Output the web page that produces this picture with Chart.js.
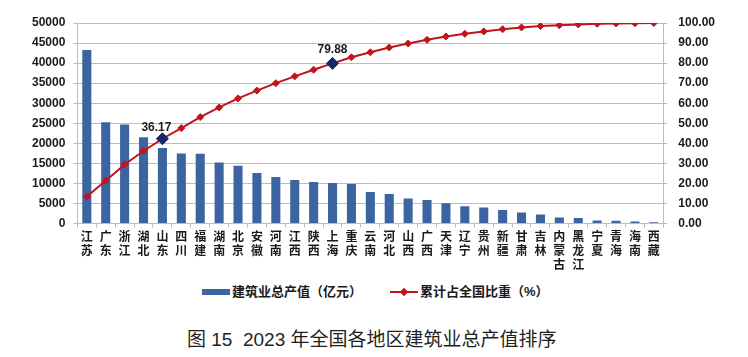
<!DOCTYPE html>
<html>
<head>
<meta charset="utf-8">
<script src="https://cdn.jsdelivr.net/npm/chart.js@4"></script>
<style>
  html, body { margin: 0; padding: 0; background: #fff; }
  #wrap { position: relative; width: 748px; height: 357px; overflow: hidden; }
  #c { position: absolute; left: 0; top: 0; }
  .leg { position: absolute; top: 283px; height: 18px; font: bold 13px "Liberation Sans", "Noto Sans CJK SC", sans-serif; color: #1a1a1a; line-height: 18px; white-space: nowrap; }
  .sw-bar { position: absolute; top: 6px; width: 28px; height: 6px; background: #3B64A0; }
  .sw-line { position: absolute; top: 8px; width: 28px; height: 2px; background: #C0141C; }
  .sw-dia { position: absolute; top: 6px; left: 11px; width: 6px; height: 6px; background: #C0141C; transform: rotate(45deg); }
  #title { position: absolute; left: 187px; top: 324px; font: 19px "Liberation Sans", "Noto Sans CJK SC", sans-serif; color: #1f1f1f; white-space: nowrap; }
</style>
</head>
<body>
<div id="wrap">
  <canvas id="c" width="748" height="280"></canvas>
  <div class="leg" style="left:202px;"><span class="sw-bar" style="left:0"></span><span style="position:absolute;left:30px;">建筑业总产值（亿元）</span></div>
  <div class="leg" style="left:390px;"><span class="sw-line" style="left:0"></span><span class="sw-dia"></span><span style="position:absolute;left:30px;">累计占全国比重（%）</span></div>
  <div id="title">图 15&nbsp; 2023 年全国各地区建筑业总产值排序</div>
</div>
<script>
const regions = ['江苏','广东','浙江','湖北','山东','四川','福建','湖南','北京','安徽','河南','江西','陕西','上海','重庆','云南','河北','山西','广西','天津','辽宁','贵州','新疆','甘肃','吉林','内蒙古','黑龙江','宁夏','青海','海南','西藏'];
const outputValues = [43300, 25250, 24700, 21500, 18850, 17500, 17400, 15250, 14400, 12600, 11600, 10850, 10400, 10100, 9850, 7900, 7350, 6250, 5900, 5100, 4350, 4000, 3400, 2750, 2250, 1500, 1400, 750, 700, 500, 350];
const cumulativeShare = [13.5, 21.4, 29.5, 36.2, 42.3, 47.6, 53.1, 57.9, 62.4, 66.3, 70.0, 73.4, 76.7, 79.88, 82.9, 85.4, 87.8, 89.8, 91.6, 93.3, 94.6, 95.8, 96.9, 97.8, 98.5, 98.9, 99.3, 99.6, 99.8, 99.9, 100];
const highlightIndex = [4, 13];
const highlightText = ['36.17', '79.88'];
const leftTicks = [0, 5000, 10000, 15000, 20000, 25000, 30000, 35000, 40000, 45000, 50000];
const rightTicks = [0, 10, 20, 30, 40, 50, 60, 70, 80, 90, 100];

const labelPlugin = {
  id: 'hlLabels',
  afterDatasetsDraw(chart) {
    const meta = chart.getDatasetMeta(1);
    const ctx = chart.ctx;
    ctx.save();
    ctx.font = 'bold 12px "Liberation Sans", sans-serif';
    ctx.fillStyle = '#1a1a1a';
    ctx.textAlign = 'center';
    ctx.textBaseline = 'bottom';
    const dx = [-6, 0];
    const dy = [-5, -8];
    highlightIndex.forEach((idx, k) => {
      const pt = meta.data[idx];
      ctx.fillText(highlightText[k], pt.x + dx[k], pt.y + dy[k]);
    });
    ctx.restore();
  }
};

const tickFont = { family: '"Liberation Sans", sans-serif', size: 12, weight: 'bold' };
const gridColor = '#BDBDBD';

new Chart(document.getElementById('c'), {
  data: {
    labels: regions.map(r => r.split('')),
    datasets: [
      {
        type: 'bar',
        label: '建筑业总产值（亿元）',
        data: outputValues,
        backgroundColor: '#3B64A0',
        barPercentage: 0.48,
        categoryPercentage: 1.0,
        yAxisID: 'y',
        order: 2
      },
      {
        type: 'line',
        label: '累计占全国比重（%）',
        data: cumulativeShare,
        borderColor: '#C0141C',
        borderWidth: 2,
        pointStyle: 'rectRot',
        pointRadius: ctx => highlightIndex.includes(ctx.dataIndex) ? 6 : 3.5,
        pointBackgroundColor: ctx => highlightIndex.includes(ctx.dataIndex) ? '#14286E' : '#C0141C',
        pointBorderColor: ctx => highlightIndex.includes(ctx.dataIndex) ? '#14286E' : '#C0141C',
        pointBorderWidth: 1,
        tension: 0,
        yAxisID: 'y1',
        order: 1
      }
    ]
  },
  options: {
    responsive: false,
    animation: false,
    devicePixelRatio: 1,
    layout: { padding: { left: 24, right: 22, top: 23, bottom: 7 } },
    plugins: {
      legend: { display: false },
      title: { display: false },
      tooltip: { enabled: false }
    },
    scales: {
      x: {
        offset: true,
        grid: { display: true, drawOnChartArea: false, drawTicks: true, tickLength: 4, color: gridColor, offset: true },
        border: { display: true, color: gridColor },
        ticks: { font: { family: '"Noto Sans CJK SC", sans-serif', size: 12, weight: 'bold', lineHeight: 1.15 }, color: '#1a1a1a', maxRotation: 0, autoSkip: false, padding: 2 }
      },
      y: {
        position: 'left',
        min: 0, max: 50000,
        afterBuildTicks: axis => { axis.ticks = leftTicks.map(v => ({ value: v })); },
        grid: { color: gridColor, tickLength: 4, drawTicks: true },
        border: { display: true, color: gridColor },
        ticks: { font: tickFont, color: '#1a1a1a', padding: 8, callback: v => String(v) }
      },
      y1: {
        position: 'right',
        min: 0, max: 100,
        afterBuildTicks: axis => { axis.ticks = rightTicks.map(v => ({ value: v })); },
        grid: { drawOnChartArea: false, color: gridColor, tickLength: 4, drawTicks: true },
        border: { display: true, color: gridColor },
        ticks: { font: tickFont, color: '#1a1a1a', padding: 11, callback: v => Number(v).toFixed(2) }
      }
    }
  },
  plugins: [labelPlugin]
});
</script>
</body>
</html>
